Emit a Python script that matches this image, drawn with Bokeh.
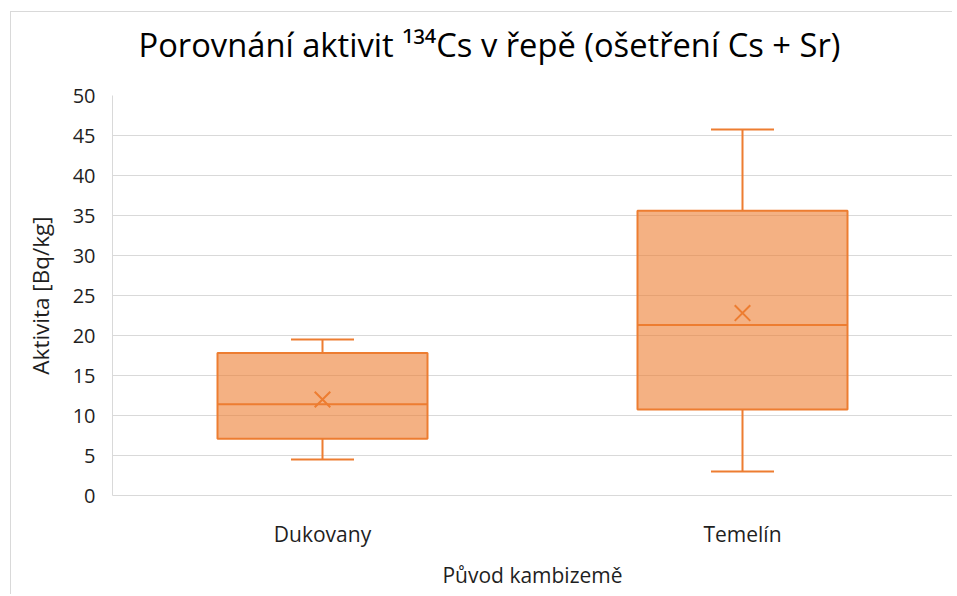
from bokeh.plotting import figure
from bokeh.layouts import column
from bokeh.models import ColumnDataSource, FixedTicker, Label
from bokeh.transform import dodge
from bokeh.embed import file_html
from bokeh.resources import INLINE

# ---- data ----
categories = ["Dukovany", "Temelín"]
q1 = [7.1, 10.75]
median = [11.4, 21.3]
q3 = [17.8, 35.6]
whisker_low = [4.5, 3.0]
whisker_high = [19.5, 45.75]
mean = [12.0, 22.8]
y_ticks = [0, 5, 10, 15, 20, 25, 30, 35, 40, 45, 50]

title_text = "Porovnání aktivit ¹³⁴Cs v řepě (ošetření Cs + Sr)"
y_label = "Aktivita [Bq/kg]"
x_label = "Původ kambizemě"

ORANGE = "#ED7D31"
GRID = "#d9d9d9"
TXT = "#1f1f1f"
FONT = "Open Sans"

W = 941
LEFT = 101
TITLE_H = 68

# ---- title band (pixel-scaled ranges; its frame is aligned with the plot frame) ----
pt = figure(width=W, height=TITLE_H, x_range=(0, W - LEFT), y_range=(0, TITLE_H),
            output_backend="svg", toolbar_location=None,
            x_axis_location=None, y_axis_location=None,
            min_border_left=LEFT, min_border_right=0, min_border_top=0, min_border_bottom=0)
pt.grid.visible = False
pt.outline_line_color = None
pt.add_layout(Label(text=title_text, x=26, y=TITLE_H - 32,
                    text_font=FONT, text_font_size="32.7px", text_color="black",
                    text_align="left", text_baseline="middle"))

# ---- box plot ----
src = ColumnDataSource(dict(cat=categories, q1=q1, med=median, q3=q3,
                            lo=whisker_low, hi=whisker_high, mean=mean))

p = figure(x_range=categories, y_range=(0, 50), width=W, height=582 - TITLE_H,
           output_backend="svg", toolbar_location=None,
           min_border_left=LEFT, min_border_right=0,
           min_border_top=15, min_border_bottom=99)

# whiskers
p.segment(x0="cat", y0="q3", x1="cat", y1="hi", line_color=ORANGE, line_width=2, source=src)
p.segment(x0="cat", y0="q1", x1="cat", y1="lo", line_color=ORANGE, line_width=2, source=src)
p.segment(x0=dodge("cat", -0.075, range=p.x_range), y0="hi",
          x1=dodge("cat", 0.075, range=p.x_range), y1="hi",
          line_color=ORANGE, line_width=2, source=src)
p.segment(x0=dodge("cat", -0.075, range=p.x_range), y0="lo",
          x1=dodge("cat", 0.075, range=p.x_range), y1="lo",
          line_color=ORANGE, line_width=2, source=src)
# boxes
p.vbar(x="cat", bottom="q1", top="q3", width=0.5, fill_color=ORANGE, fill_alpha=0.6,
       line_color=ORANGE, line_width=2, source=src)
# median
p.segment(x0=dodge("cat", -0.25, range=p.x_range), y0="med",
          x1=dodge("cat", 0.25, range=p.x_range), y1="med",
          line_color=ORANGE, line_width=2, source=src)
# mean
p.scatter(x="cat", y="mean", marker="x", size=22, line_color=ORANGE, line_width=2, source=src)

p.outline_line_color = None
p.xgrid.grid_line_color = None
p.ygrid.grid_line_color = GRID
p.ygrid.grid_line_width = 1
p.yaxis.ticker = FixedTicker(ticks=y_ticks)

for ax in (p.xaxis[0], p.yaxis[0]):
    ax.axis_line_color = GRID
    ax.axis_line_width = 1
    ax.major_tick_line_color = None
    ax.minor_tick_line_color = None
    ax.major_label_text_font = FONT
    ax.major_label_text_color = TXT
    ax.axis_label_text_font = FONT
    ax.axis_label_text_font_style = "normal"
    ax.axis_label_text_color = TXT

p.yaxis.major_label_text_font_size = "20px"
p.xaxis.major_label_text_font_size = "21px"
p.yaxis.axis_label_text_font_size = "22.5px"
p.xaxis.axis_label_text_font_size = "21px"
p.yaxis.axis_label = y_label
p.yaxis.major_label_standoff = 11
p.yaxis.axis_label_standoff = 14
p.xaxis.axis_label = x_label
p.xaxis.major_label_standoff = 18
p.xaxis.axis_label_standoff = 10

layout = column(pt, p, spacing=0)
layout.margin = (11, 0, 0, 10)
layout.styles = {"border-left": "1px solid #d9d9d9", "border-top": "1px solid #d9d9d9"}

open("out.html", "w").write(file_html(layout, INLINE))
